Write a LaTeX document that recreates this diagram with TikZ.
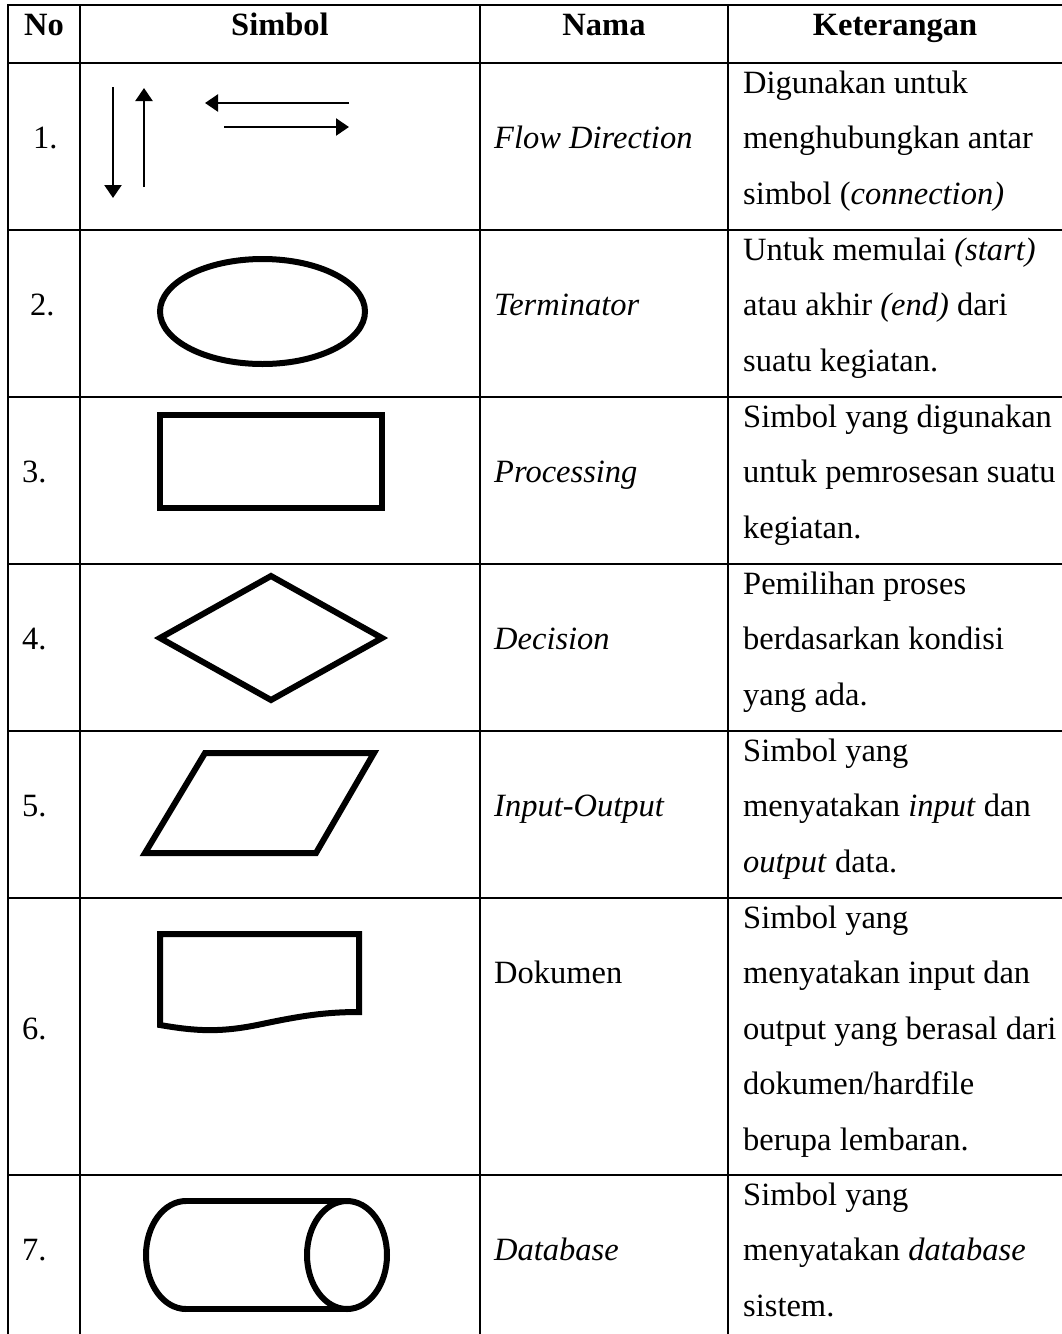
\documentclass[tikz,border=0pt]{standalone}
\usepackage{fontspec}
\setmainfont{Liberation Serif}
\usetikzlibrary{arrows.meta}
\newcommand{\bodyfont}{\fontsize{32.5}{40}\selectfont}
\begin{document}
\begin{tikzpicture}[x=1pt,y=-1pt,
  gridline/.style={line width=2.3pt, line cap=rect},
  shp/.style={line width=6pt, line join=miter},
  arr/.style={line width=2.3pt, -{Triangle[width=17pt,length=13pt]}},
  txt/.style={anchor=base west, inner sep=0pt, font=\bodyfont},
  hdr/.style={anchor=base, inner sep=0pt, font=\bodyfont\bfseries}]
\useasboundingbox (0,0) rectangle (1062,1334);
\fill[white] (0,0) rectangle (1062,1334);
% table grid
\draw[gridline] (8,5) -- (1062,5);
\draw[gridline] (8,63) -- (1062,63);
\foreach \yy in {230,397,564,731,898,1175}{\draw[gridline] (8,\yy) -- (1062,\yy);}
\draw[gridline] (8,5) -- (8,1334);
\draw[gridline] (80,5) -- (80,1334);
\draw[gridline] (480,5) -- (480,1334);
\draw[gridline] (728,5) -- (728,1334);
% header
\node[hdr] (hno) at (44,35.5) {No};
\node[hdr] (hsym) at (280,35.5) {Simbol};
\node[hdr] (hnama) at (604,35.5) {Nama};
\node[hdr] (hket) at (895,35.5) {Keterangan};
% numbers
\node[txt] (n1) at (33,148.6) {1.};
\node[txt] (n2) at (30,315.6) {2.};
\node[txt] (n3) at (22,482.6) {3.};
\node[txt] (n4) at (22,649.6) {4.};
\node[txt] (n5) at (22,816.6) {5.};
\node[txt] (n6) at (22,1039.2) {6.};
\node[txt] (n7) at (22,1260.6) {7.};
% names
\node[txt] (m1) at (494,148.6) {\itshape Flow Direction};
\node[txt] (m2) at (494,315.6) {\itshape Terminator};
\node[txt] (m3) at (494,482.6) {\itshape Processing};
\node[txt] (m4) at (494,649.6) {\itshape Decision};
\node[txt] (m5) at (494,816.6) {\itshape Input-Output};
\node[txt] (m6) at (494,983.6) {Dokumen};
\node[txt] (m7) at (494,1260.6) {\itshape Database};
% descriptions
\node[txt] (k1a) at (743,93) {Digunakan untuk};
\node[txt] (k1b) at (743,148.6) {menghubungkan antar};
\node[txt] (k1c) at (743,204.2) {simbol (\textit{connection)}};
\node[txt] (k2a) at (743,260) {Untuk memulai \textit{(start)}};
\node[txt] (k2b) at (743,315.6) {atau akhir \textit{(end)} dari};
\node[txt] (k2c) at (743,371.2) {suatu kegiatan.};
\node[txt] (k3a) at (743,427) {Simbol yang digunakan};
\node[txt] (k3b) at (743,482.6) {untuk pemrosesan suatu};
\node[txt] (k3c) at (743,538.2) {kegiatan.};
\node[txt] (k4a) at (743,594) {Pemilihan proses};
\node[txt] (k4b) at (743,649.6) {berdasarkan kondisi};
\node[txt] (k4c) at (743,705.2) {yang ada.};
\node[txt] (k5a) at (743,761) {Simbol yang};
\node[txt] (k5b) at (743,816.6) {menyatakan \textit{input} dan};
\node[txt] (k5c) at (743,872.2) {\textit{output} data.};
\node[txt] (k6a) at (743,928) {Simbol yang};
\node[txt] (k6b) at (743,983.6) {menyatakan input dan};
\node[txt] (k6c) at (743,1039.2) {output yang berasal dari};
\node[txt] (k6d) at (743,1094.8) {dokumen/hardfile};
\node[txt] (k6e) at (743,1150.4) {berupa lembaran.};
\node[txt] (k7a) at (743,1205) {Simbol yang};
\node[txt] (k7b) at (743,1260.6) {menyatakan \textit{database}};
\node[txt] (k7c) at (743,1316.2) {sistem.};
% 1. flow direction arrows
\coordinate (a1s) at (113,87);  \coordinate (a1e) at (113,198);
\coordinate (a2s) at (144,187); \coordinate (a2e) at (144,88);
\coordinate (a3s) at (349,103); \coordinate (a3e) at (205,103);
\coordinate (a4s) at (224,127); \coordinate (a4e) at (349,127);
\draw[arr] (a1s) -- (a1e);
\draw[arr] (a2s) -- (a2e);
\draw[arr] (a3s) -- (a3e);
\draw[arr] (a4s) -- (a4e);
% 2. terminator
\draw[shp] (262.5,311.5) ellipse [x radius=102.5, y radius=52.5];
% 3. processing
\draw[shp] (160,415) rectangle (382,508);
% 4. decision
\draw[shp] (160,638) -- (271,576) -- (382,638) -- (271,700) -- cycle;
% 5. input-output
\draw[shp] (145,853) -- (205,753) -- (374,753) -- (316,853) -- cycle;
% 6. document
\draw[shp] (160,1025) -- (160,934) -- (359,934) -- (359,1012)
  .. controls (325,1012) and (300,1016) .. (262,1024)
  .. controls (220,1033) and (195,1031) .. (160,1025) -- cycle;
% 7. database
\draw[shp] (186,1201) -- (347,1201);
\draw[shp] (186,1309) -- (347,1309);
\draw[shp] (347,1255) ellipse [x radius=40, y radius=54];
\draw[shp] (186,1201) arc [start angle=-90, end angle=-270, x radius=40, y radius=54];
\end{tikzpicture}
\end{document}
